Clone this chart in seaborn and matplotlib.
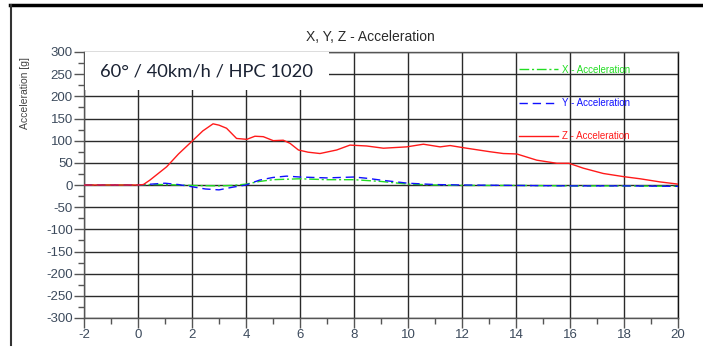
import numpy as np
import pandas as pd
import matplotlib
matplotlib.use('Agg')
import matplotlib.pyplot as plt
from matplotlib.lines import Line2D
from matplotlib.patches import Rectangle
from matplotlib.ticker import MultipleLocator
import seaborn as sns

plt.rcParams['font.family'] = ['Liberation Sans', 'DejaVu Sans']
plt.rcParams['axes.unicode_minus'] = False

# Dane (czas [ms], przyspieszenie [g])
czas_z = [-2, 0, 0.2, 0.44, 1.06, 1.5, 2.04, 2.4, 2.78, 3.0, 3.28, 3.65, 4.03, 4.33, 4.64, 5.01, 5.38,
          5.63, 5.94, 6.3, 6.74, 7.36, 7.85, 8.47, 9.09, 9.95, 10.57, 11.19, 11.56, 12.17, 13.04,
          13.53, 14.03, 14.77, 15.51, 15.96, 16.49, 17.23, 17.97, 18.6, 19.33, 20]
acc_z = [0, 0, 1, 11, 41, 70, 101, 122, 138, 135, 128, 105, 103, 110, 109, 100, 101,
         94, 79, 74, 71, 79, 90, 88, 83, 86, 92, 86, 89, 83, 75,
         71, 70, 56, 49, 49, 38, 26, 19, 14, 7, 2]

czas_y = [-2, 0, 0.5, 1.0, 1.5, 2.0, 2.5, 3.0, 3.5, 4.0, 4.5, 5.0, 5.5, 6.0, 7.0, 8.0, 8.5,
          9.0, 10.0, 11.0, 12.0, 14.0, 16.0, 18.0, 20.0]
acc_y = [0, 0, 2, 4, 1, -4, -9, -11, -5, 0, 11, 17, 20, 18, 16, 18, 15,
         11, 4, 1, 0, -1, -2, -2, -3]

czas_x = [-2, 0, 0.5, 1.0, 2.0, 3.0, 3.5, 4.0, 4.5, 5.0, 6.0, 7.0, 8.0, 9.0, 10.0, 11.0,
          12.0, 14.0, 16.0, 18.0, 20.0]
acc_x = [0, 0, 1, 1, -1, -2, -1, 2, 8, 12, 14, 12, 12, 8, 2, 0,
         -1, -1, -2, -2, -3]

fig = plt.figure(figsize=(7.03, 3.53), dpi=100)
ax = fig.add_axes([84 / 703, 35 / 353, 594 / 703, 266 / 353])

sns.lineplot(x=czas_x, y=acc_x, ax=ax, color='#22dd22', lw=1.0,
             label='X - Acceleration', zorder=3)
sns.lineplot(x=czas_y, y=acc_y, ax=ax, color='#1010ff', lw=1.0,
             label='Y - Acceleration', zorder=4)
sns.lineplot(x=czas_z, y=acc_z, ax=ax, color='#ff1a1a', lw=1.0,
             label='Z - Acceleration', zorder=5)
ax.lines[0].set_dashes((7, 2, 1.5, 2))
ax.lines[1].set_dashes((6, 3.5))

ax.set_xlim(-2, 20)
ax.set_ylim(-300, 300)
ax.xaxis.set_major_locator(MultipleLocator(2))
ax.xaxis.set_minor_locator(MultipleLocator(1))
ax.yaxis.set_major_locator(MultipleLocator(50))
ax.yaxis.set_minor_locator(MultipleLocator(25))
ax.grid(True, which='major', color='#2a2a2a', lw=1.0)
ax.set_axisbelow(True)
for s in ax.spines.values():
    s.set_color('#555555')
    s.set_linewidth(1.0)
ax.spines['right'].set_color('#111111')
ax.tick_params(which='major', direction='out', length=7, width=1, color='#555555',
               labelsize=9.5, labelcolor='#3c4a5c', pad=1)
ax.tick_params(which='minor', direction='out', length=4, width=1, color='#555555')
ax.set_xlabel('')
ax.set_ylabel('')

# Białe pole z opisem testu
ax.add_patch(Rectangle((0.002, 0.857), 0.41, 0.143, transform=ax.transAxes,
                       facecolor='white', edgecolor='none', zorder=6))
ax.text(0.027, 0.925, '60° / 40km/h / HPC 1020', transform=ax.transAxes,
        fontsize=13.2, family='Lato', color='#1a2233', va='center', ha='left', zorder=7)

leg = ax.legend(loc='upper left', bbox_to_anchor=(0.718, 0.985), frameon=False,
                fontsize=7, handlelength=4, labelspacing=2.4, handletextpad=0.4)
for txt, line in zip(leg.get_texts(), leg.get_lines()):
    txt.set_color(line.get_color())

fig.text(370 / 703, 1 - 37 / 353, 'X, Y, Z - Acceleration', ha='center', va='center',
         fontsize=10, color='#2a2a2a')
fig.text(25 / 703, 1 - 93 / 353, 'Acceleration [g]', rotation=90, ha='center', va='center',
         fontsize=7.5, color='#444444')

# Ramka strony
fig.add_artist(Line2D([10 / 703, 1.0], [1 - 5 / 353, 1 - 5 / 353], color='black', lw=2.5))
fig.add_artist(Line2D([11 / 703, 11 / 703], [1 - 5 / 353, 1 - 345 / 353], color='#333333', lw=1.5))

fig.savefig('out.png', dpi=100)
